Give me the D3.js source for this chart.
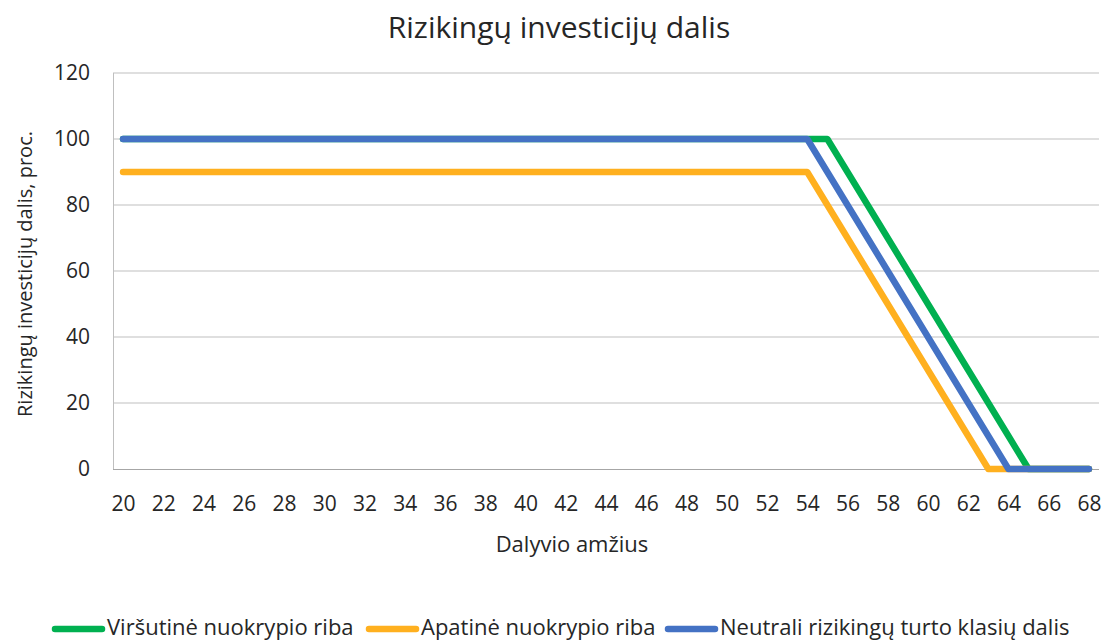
<!DOCTYPE html>
<html>
<head>
<meta charset="utf-8">
<script src="https://cdn.jsdelivr.net/npm/d3@7"></script>
<style>
  body { margin: 0; background: #fff; overflow: hidden; }
  text { font-family: "Open Sans", sans-serif; fill: #262626; }
</style>
</head>
<body>
<div id="chart-area"></div>
<script>
var width = 1104,
	height = 641;

// ages 20..68
var ages = d3.range(20, 69);
var yTicks = [0, 20, 40, 60, 80, 100, 120];

// values per age
var upper = [100,100,100,100,100,100,100,100,100,100,100,100,100,100,100,100,100,100,100,100,
	100,100,100,100,100,100,100,100,100,100,100,100,100,100,100,100,90,80,70,60,50,40,30,20,10,0,0,0,0];
var lower = [90,90,90,90,90,90,90,90,90,90,90,90,90,90,90,90,90,90,90,90,
	90,90,90,90,90,90,90,90,90,90,90,90,90,90,90,80,70,60,50,40,30,20,10,0,0,0,0,0,0];
var neutral = [100,100,100,100,100,100,100,100,100,100,100,100,100,100,100,100,100,100,100,100,
	100,100,100,100,100,100,100,100,100,100,100,100,100,100,100,90,80,70,60,50,40,30,20,10,0,0,0,0,0];

var seriesNames = ["Viršutinė nuokrypio riba", "Apatinė nuokrypio riba", "Neutrali rizikingų turto klasių dalis"];
var seriesColors = ["#00B050", "#FFB01F", "#4472C4"];
var seriesValues = [upper, lower, neutral];

var margin = {top: 73, right: 5, bottom: 172, left: 113};
var innerW = width - margin.left - margin.right,
	innerH = height - margin.top - margin.bottom;

var svg = d3.select("#chart-area").append("svg")
	.attr("width", width)
	.attr("height", height);

var g = svg.append("g")
	.attr("transform", "translate(" + margin.left + "," + margin.top + ")");

var x = d3.scalePoint()
	.domain(ages)
	.range([0, innerW])
	.padding(0.5);

var y = d3.scaleLinear()
	.domain([0, 120])
	.range([innerH, 0]);

// gridlines
g.selectAll(".grid")
	.data(yTicks.filter(function(d) { return d > 0; }))
	.enter()
	.append("line")
	.attr("x1", 0)
	.attr("x2", innerW)
	.attr("y1", function(d) { return y(d); })
	.attr("y2", function(d) { return y(d); })
	.attr("stroke", "#bfbfbf")
	.attr("stroke-width", 1);

// left axis line
g.append("line")
	.attr("x1", 0.5).attr("x2", 0.5)
	.attr("y1", 0).attr("y2", innerH)
	.attr("stroke", "#bfbfbf");

// y labels
var yAxis = d3.axisLeft(y).tickValues(yTicks).tickSize(0).tickPadding(23);
g.append("g")
	.attr("class", "axis yAxis")
	.call(yAxis)
	.call(function(s) { s.select(".domain").remove(); })
	.selectAll("text")
	.style("font-size", "21px");

// x labels
var xAxis = d3.axisBottom(x)
	.tickValues(ages.filter(function(d) { return d % 2 === 0; }))
	.tickSize(0)
	.tickPadding(27);
g.append("g")
	.attr("class", "axis xAxis")
	.attr("transform", "translate(0," + innerH + ")")
	.call(xAxis)
	.call(function(s) { s.select(".domain").remove(); })
	.selectAll("text")
	.style("font-size", "21px");

// bottom axis line
g.append("line")
	.attr("x1", 0).attr("x2", innerW)
	.attr("y1", innerH + 0.5).attr("y2", innerH + 0.5)
	.attr("stroke", "#a6a6a6");

var line = d3.line()
	.x(function(d, i) { return x(ages[i]); })
	.y(function(d) { return y(d); });

seriesValues.forEach(function(vals, i) {
	g.append("path")
		.datum(vals)
		.attr("d", line)
		.attr("fill", "none")
		.attr("stroke", seriesColors[i])
		.attr("stroke-width", 6.5)
		.attr("stroke-linejoin", "round")
		.attr("stroke-linecap", "round");
});

// title
svg.append("text")
	.attr("x", 559)
	.attr("y", 38)
	.attr("text-anchor", "middle")
	.style("font-size", "30px")
	.text("Rizikingų investicijų dalis");

// axis titles
svg.append("text")
	.attr("x", 572)
	.attr("y", 552)
	.attr("text-anchor", "middle")
	.style("font-size", "22px")
	.text("Dalyvio amžius");

svg.append("text")
	.attr("transform", "translate(32,274) rotate(-90)")
	.attr("text-anchor", "middle")
	.style("font-size", "20px")
	.text("Rizikingų investicijų dalis, proc.");

// legend
var legendX = [52, 366, 665];
var legend = svg.selectAll(".legend")
	.data(seriesNames)
	.enter()
	.append("g")
	.attr("class", "legend")
	.attr("transform", function(d, i) { return "translate(" + legendX[i] + ",629)"; });

legend.append("line")
	.attr("x1", 3).attr("x2", 50)
	.attr("y1", 0).attr("y2", 0)
	.attr("stroke", function(d, i) { return seriesColors[i]; })
	.attr("stroke-width", 6.5)
	.attr("stroke-linecap", "round");

legend.append("text")
	.attr("x", 55)
	.attr("y", 6)
	.style("font-size", "22px")
	.text(function(d) { return d; });
</script>
</body>
</html>
